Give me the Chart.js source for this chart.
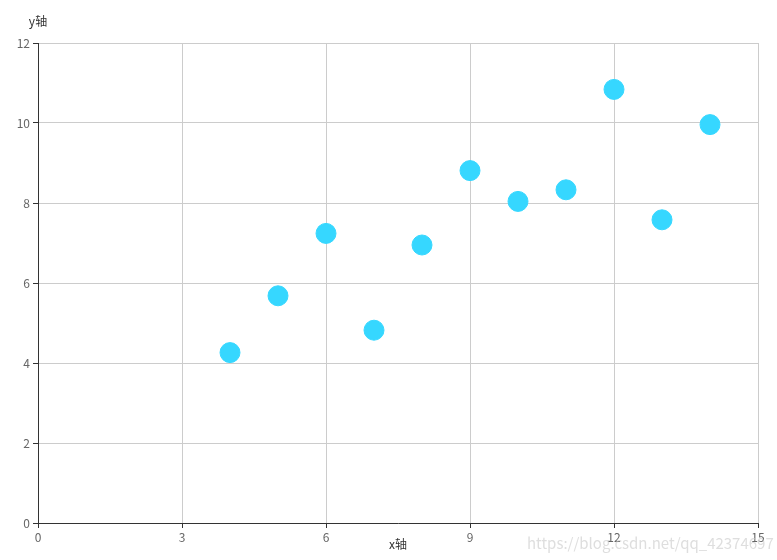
<!DOCTYPE html>
<html lang="zh">
<head>
<meta charset="UTF-8">
<title>scatter</title>
<style>
  html, body { margin: 0; padding: 0; background: #fff; }
  .wrap { width: 777px; height: 560px; }
</style>
</head>
<body>
<div class="wrap">
  <canvas id="scatterChart" width="777" height="560"></canvas>
</div>
<script src="https://cdn.jsdelivr.net/npm/chart.js"></script>
<script>
  // data
  var xValues = [10, 8, 13, 9, 11, 14, 6, 4, 12, 7, 5];
  var yValues = [8.04, 6.95, 7.58, 8.81, 8.33, 9.96, 7.24, 4.26, 10.84, 4.82, 5.68];
  var xTicks = [0, 3, 6, 9, 12, 15];
  var yTicks = [0, 2, 4, 6, 8, 10, 12];
  var xName = 'x轴';
  var yName = 'y轴';
  var watermark = 'https://blog.csdn.net/qq_42374697';

  var points = xValues.map(function (x, i) { return { x: x, y: yValues[i] }; });
  var font = '"Noto Sans CJK SC", "Noto Sans", sans-serif';

  // no grid line on the zero value, the axis line sits there
  function gridColor(c) {
    return c.tick && c.tick.value === 0 ? 'rgba(0,0,0,0)' : '#ccc';
  }

  // dark axis lines, axis names, watermark
  var extraText = {
    id: 'extraText',
    beforeDatasetsDraw: function (chart) {
      var ctx = chart.ctx;
      var area = chart.chartArea;
      var l = Math.round(area.left) + 0.5;
      var b = Math.round(area.bottom) + 0.5;
      ctx.save();
      ctx.strokeStyle = '#333';
      ctx.lineWidth = 1;
      ctx.beginPath();
      ctx.moveTo(l, Math.round(area.top));
      ctx.lineTo(l, b);
      ctx.lineTo(Math.round(area.right) + 1, b);
      ctx.stroke();
      ctx.restore();
    },
    afterDraw: function (chart) {
      var ctx = chart.ctx;
      var area = chart.chartArea;
      ctx.save();
      ctx.font = '12px ' + font;
      ctx.fillStyle = '#333';
      ctx.textAlign = 'center';
      ctx.textBaseline = 'middle';
      ctx.fillText(yName, area.left, 21);
      ctx.fillText(xName, (area.left + area.right) / 2, 544);
      ctx.font = '15px ' + font;
      ctx.fillStyle = 'rgba(200,200,200,0.6)';
      ctx.textAlign = 'left';
      ctx.fillText(watermark, 527, 543);
      ctx.restore();
    }
  };

  new Chart(document.getElementById('scatterChart'), {
    type: 'scatter',
    data: {
      datasets: [{
        data: points,
        backgroundColor: 'rgb(54,215,255)',
        borderColor: 'rgb(54,215,255)',
        pointRadius: 10,
        pointHoverRadius: 10
      }]
    },
    options: {
      responsive: false,
      animation: false,
      layout: { padding: { top: 43, right: 19, bottom: 0, left: 0 } },
      plugins: {
        legend: { display: false },
        tooltip: { enabled: false }
      },
      scales: {
        x: {
          type: 'linear',
          min: 0,
          max: 15,
          afterBuildTicks: function (s) { s.ticks = xTicks.map(function (v) { return { value: v }; }); },
          afterFit: function (s) { s.height = 37; },
          grid: { color: gridColor, tickColor: '#333', tickLength: 5 },
          border: { display: false },
          ticks: { color: '#666', font: { size: 12, family: font }, padding: 2, maxRotation: 0 }
        },
        y: {
          type: 'linear',
          min: 0,
          max: 12,
          afterBuildTicks: function (s) { s.ticks = yTicks.map(function (v) { return { value: v }; }); },
          afterFit: function (s) { s.width = 38; },
          grid: { color: gridColor, tickColor: '#333', tickLength: 5 },
          border: { display: false },
          ticks: { color: '#666', font: { size: 12, family: font }, padding: 3 }
        }
      }
    },
    plugins: [extraText]
  });
</script>
</body>
</html>
